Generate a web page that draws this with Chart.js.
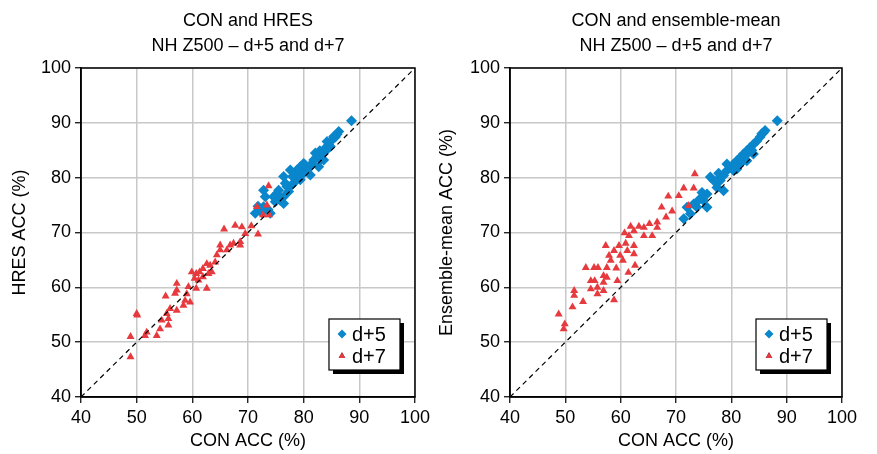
<!DOCTYPE html>
<html>
<head>
<meta charset="utf-8">
<script src="https://cdn.jsdelivr.net/npm/chart.js@4.4.0/dist/chart.umd.min.js"></script>
<style>
  body { margin: 0; background: #fff; }
  #wrap { position: relative; width: 877px; height: 454px; }
  .box { position: absolute; top: 0; height: 454px; }
</style>
</head>
<body>
<div id="wrap">
  <div class="box" style="left:0;width:434px"><canvas id="chartLeft"></canvas></div>
  <div class="box" style="left:429px;width:448px"><canvas id="chartRight"></canvas></div>
</div>
<script>
// axis ticks
const tickValues = [40, 50, 60, 70, 80, 90, 100];
const seriesLabels = ['d+5', 'd+7'];
const diagonal = [40, 100];

// left panel: CON vs HRES, d+5
const hresD5 = [
  [88.6, 90.4], [86.3, 88.4], [86.0, 87.9], [85.7, 87.4], [85.4, 87.5], [85.0, 86.8], [84.8, 85.7],
  [84.5, 86.0], [84.2, 86.6], [83.9, 84.8], [83.6, 85.1], [83.6, 83.2], [83.2, 84.2], [83.0, 83.2],
  [82.9, 84.9], [82.7, 82.0], [82.4, 83.8], [82.1, 84.5], [81.8, 83.2], [81.5, 82.6], [81.2, 82.0],
  [81.2, 80.5], [80.8, 81.9], [80.6, 81.4], [80.3, 82.3], [80.0, 82.6], [80.0, 80.8], [79.6, 81.0],
  [79.4, 79.6], [79.4, 82.0], [79.0, 81.2], [78.8, 81.4], [78.5, 80.5], [78.2, 79.0], [78.0, 80.2],
  [77.8, 78.6], [77.6, 81.4], [77.3, 77.5], [77.0, 78.4], [76.7, 79.0], [76.4, 80.2], [76.4, 76.5],
  [76.4, 75.3], [75.8, 75.9], [75.5, 77.7], [75.2, 77.1], [74.9, 75.6], [74.6, 76.5], [74.0, 73.5],
  [73.6, 74.2], [73.1, 76.5], [72.8, 77.7], [72.8, 74.7], [72.5, 73.6], [71.8, 74.8], [71.3, 73.5]
];

// left panel: CON vs HRES, d+7
const hresD7 = [
  [73.7, 78.5], [71.6, 74.7], [73.4, 75.0], [72.7, 73.2], [73.8, 73.2], [70.6, 71.2], [71.8, 69.7],
  [65.7, 70.6], [67.7, 71.3], [68.9, 71.0], [69.5, 69.8], [68.6, 68.3], [68.6, 67.7], [67.4, 68.0],
  [66.8, 67.7], [66.2, 66.8], [65.0, 67.7], [65.0, 66.8], [64.4, 65.9], [64.1, 64.6], [63.2, 64.0],
  [62.6, 64.3], [61.9, 63.4], [61.3, 62.8], [60.7, 62.5], [59.9, 62.8], [62.9, 62.5], [61.9, 61.9],
  [61.1, 61.3], [60.7, 59.8], [62.6, 59.8], [59.3, 60.1], [59.0, 58.8], [58.7, 57.6], [59.6, 57.3],
  [58.4, 56.7], [57.2, 60.7], [57.2, 59.5], [56.9, 58.9], [55.2, 58.4], [57.2, 55.8], [56.0, 56.1],
  [55.4, 55.2], [55.7, 54.3], [54.5, 54.0], [55.7, 53.1], [54.2, 52.4], [53.6, 51.2], [51.8, 51.8],
  [51.5, 51.2], [50.0, 55.2], [50.1, 54.9], [48.9, 51.0], [48.9, 47.3], [63.5, 62.8], [60.4, 61.6]
];

// right panel: CON vs ensemble-mean, d+5
const ensD5 = [
  [88.3, 90.4], [86.1, 88.6], [85.8, 88.2], [85.5, 88.0], [85.2, 87.4], [84.6, 86.7], [84.0, 86.1],
  [84.0, 84.3], [83.4, 85.5], [82.8, 84.9], [82.8, 83.1], [82.2, 84.3], [81.6, 83.7], [81.6, 82.5],
  [81.0, 83.1], [81.0, 81.6], [80.4, 82.5], [80.4, 81.3], [79.8, 81.9], [79.2, 81.3], [79.2, 82.5],
  [78.6, 80.4], [78.6, 77.6], [78.0, 79.5], [77.4, 79.5], [77.4, 78.2], [76.8, 79.5], [76.2, 80.1],
  [75.6, 77.0], [75.6, 74.6], [75.0, 75.8], [74.7, 77.3], [73.8, 74.6], [73.2, 75.2], [72.6, 73.4],
  [72.0, 74.6], [71.4, 72.5], [83.7, 85.0], [82.5, 84.0], [80.7, 82.0], [77.7, 80.8], [74.2, 76.0]
];

// right panel: CON vs ensemble-mean, d+7
const ensD7 = [
  [73.4, 80.7], [71.4, 78.1], [73.2, 78.1], [68.6, 76.6], [70.5, 76.7], [72.3, 74.9], [67.4, 74.6],
  [69.3, 73.9], [68.2, 72.8], [66.6, 71.9], [66.6, 70.9], [65.2, 71.6], [64.2, 70.9], [65.7, 69.4],
  [64.2, 69.4], [63.3, 71.1], [62.4, 70.3], [61.8, 71.1], [60.7, 69.9], [61.5, 69.4], [60.9, 68.0],
  [59.7, 67.6], [58.8, 66.7], [57.3, 67.6], [57.9, 65.8], [58.2, 64.9], [60.4, 64.9], [62.4, 67.6],
  [62.4, 66.1], [61.2, 66.7], [62.6, 64.0], [61.4, 62.7], [59.2, 63.5], [57.5, 63.6], [56.9, 62.1],
  [55.9, 63.6], [55.2, 63.6], [53.7, 63.6], [54.6, 61.2], [55.3, 61.2], [56.9, 60.9], [59.4, 61.2],
  [55.8, 60.0], [54.6, 59.7], [56.9, 59.4], [55.8, 58.8], [51.6, 59.4], [51.6, 58.5], [53.2, 57.4],
  [58.8, 57.7], [51.3, 56.4], [48.8, 55.1], [49.9, 53.3], [49.7, 52.4], [57.5, 61.8], [59.9, 65.8]
];

const blue = '#0a86cc';
const red = '#e63a3e';
const fontFamily = '"Liberation Sans", Arial, Helvetica, sans-serif';
Chart.defaults.font.family = fontFamily;
Chart.defaults.color = '#000';

const toPoints = arr => arr.map(p => ({ x: p[0], y: p[1] }));

// black frame round the plot area
const frame = {
  id: 'frame',
  afterDatasetsDraw(chart) {
    const a = chart.chartArea, ctx = chart.ctx;
    ctx.save();
    ctx.strokeStyle = '#000';
    ctx.lineWidth = 1.5;
    ctx.strokeRect(a.left, a.top, a.right - a.left, a.bottom - a.top);
    ctx.restore();
  }
};

// legend box with drop shadow, bottom right
const boxLegend = {
  id: 'boxLegend',
  afterDraw(chart) {
    const a = chart.chartArea, ctx = chart.ctx;
    const w = 71, h = 51;
    const x = a.right - 86, y = a.bottom - 78;
    ctx.save();
    ctx.fillStyle = '#000';
    ctx.fillRect(x + 4, y + 4, w, h);
    ctx.fillStyle = '#fff';
    ctx.fillRect(x, y, w, h);
    ctx.strokeStyle = '#000';
    ctx.lineWidth = 1.2;
    ctx.strokeRect(x, y, w, h);
    ctx.font = '20px ' + fontFamily;
    ctx.textBaseline = 'middle';
    chart.data.datasets.filter(d => d.label).forEach((d, i) => {
      const cy = y + 15 + i * 22;
      Chart.helpers.drawPoint(ctx, { pointStyle: d.pointStyle, radius: i === 0 ? 4.5 : 3.8, borderWidth: 0 }, x + 13, cy);
      ctx.fillStyle = d.backgroundColor;
      ctx.fill();
      ctx.fillStyle = '#000';
      ctx.fillText(d.label, x + 23, cy + 1);
    });
    ctx.restore();
  }
};

function axis(titleText, isY) {
  return {
    type: 'linear',
    min: tickValues[0],
    max: tickValues[tickValues.length - 1],
    afterBuildTicks: s => { s.ticks = tickValues.map(v => ({ value: v })); },
    ticks: { font: { size: 18 }, color: '#000', padding: 4 },
    grid: { color: '#c8c8c8', lineWidth: 1.5, tickColor: '#000', tickLength: 6, tickWidth: 1.2 },
    border: { color: '#000', width: 1.5 },
    title: {
      display: true,
      text: titleText,
      font: { size: 18 },
      color: '#000',
      padding: isY ? { top: 9, bottom: 0 } : { top: 0, bottom: 2 }
    },
    afterFit: s => { if (isY) s.width = 81; else s.height = 57; }
  };
}

function makeChart(id, titleLines, yTitle, d5, d7, rightPad, yTitlePad) {
  const yAxis = axis(yTitle, true);
  yAxis.title.padding = { top: yTitlePad, bottom: 0 };
  return new Chart(document.getElementById(id), {
    type: 'scatter',
    data: {
      datasets: [
        {
          data: diagonal.map(v => ({ x: v, y: v })),
          showLine: true,
          borderColor: '#000',
          borderWidth: 1.2,
          borderDash: [5, 4],
          pointRadius: 0,
          order: 0
        },
        {
          label: seriesLabels[0],
          data: toPoints(d5),
          pointStyle: 'rectRot',
          pointRadius: 5.5,
          backgroundColor: blue,
          borderColor: blue,
          borderWidth: 0,
          order: 2
        },
        {
          label: seriesLabels[1],
          data: toPoints(d7),
          pointStyle: 'triangle',
          pointRadius: 4.6,
          backgroundColor: red,
          borderColor: red,
          borderWidth: 0,
          order: 1
        }
      ]
    },
    options: {
      responsive: true,
      maintainAspectRatio: false,
      animation: false,
      layout: { padding: { left: 0, right: rightPad, top: 0, bottom: 0 } },
      plugins: {
        legend: { display: false },
        tooltip: { enabled: false },
        title: {
          display: true,
          fullSize: false,
          text: titleLines,
          color: '#000',
          font: { size: 18, weight: 'normal', lineHeight: 1.4 },
          padding: { top: 8, bottom: 9.6 }
        }
      },
      scales: {
        x: axis('CON ACC (%)', false),
        y: yAxis
      }
    },
    plugins: [frame, boxLegend]
  });
}

makeChart('chartLeft', ['CON and HRES', 'NH Z500 – d+5 and d+7'], 'HRES ACC (%)', hresD5, hresD7, 16, 9);
makeChart('chartRight', ['CON and ensemble-mean', 'NH Z500 – d+5 and d+7'], 'Ensemble-mean ACC (%)', ensD5, ensD7, 35, 7);
</script>
</body>
</html>
